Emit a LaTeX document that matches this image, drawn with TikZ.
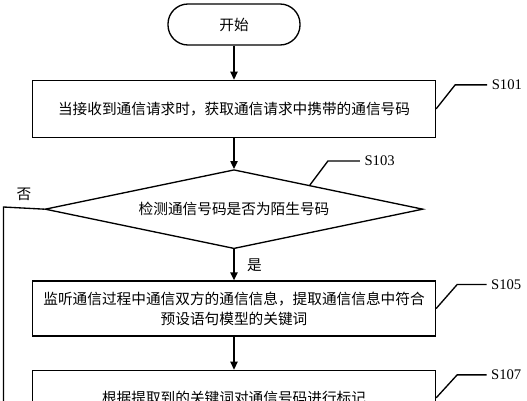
\documentclass[tikz,border=0pt]{standalone}
\usepackage{fontspec}
\setmainfont{Liberation Serif}
\newfontfamily\cjk{Noto Sans CJK SC}
\usetikzlibrary{positioning,shapes.geometric,arrows.meta,calc}

\tikzset{
  startstop/.style={draw, rectangle, rounded corners=15pt, minimum width=99pt, minimum height=30.75pt},
  proc/.style={draw, rectangle, minimum width=302.25pt, minimum height=42.75pt, align=center, inner sep=0pt},
  decide/.style={draw, diamond, aspect=4.8, minimum width=283.5pt, minimum height=59.25pt, inner sep=0pt},
  tag/.style={font=\rmfamily\fontsize{11}{13}\selectfont, inner sep=3pt},
}

\begin{document}
\begin{tikzpicture}[x=0.75pt, y=-0.75pt, node distance=24pt, line width=1pt,
    font=\cjk\fontsize{11}{15}\selectfont, >={Triangle[length=6pt,width=5.5pt]}]
  \useasboundingbox (0,0) rectangle (527,400);
  \clip (0,0) rectangle (527,400);

  \node[startstop] (start) at (234,24.5) {开始};
  \node[proc, below=25.5pt of start] (s101) {当接收到通信请求时，获取通信请求中携带的通信号码};
  \node[decide, below=23.25pt of s101] (chk) {检测通信号码是否为陌生号码};
  \node[proc, below=23.25pt of chk, minimum height=41.25pt] (s105)
    {监听通信过程中通信双方的通信信息，提取通信信息中符合\\预设语句模型的关键词};
  \node[proc, below=24.75pt of s105, minimum height=41.25pt] (s107) {根据提取到的关键词对通信号码进行标记};

  % step labels
  \coordinate (k101) at ($(s101.east)+(19,-24)$);
  \node[tag, right=24pt of k101, anchor=west] (t101) {S101};
  \coordinate (e103) at ($(chk.north)!0.4!(chk.east)$);
  \coordinate (k103) at ($(e103)+(18,-24)$);
  \node[tag, right=24pt of k103, anchor=west] (t103) {S103};
  \coordinate (k105) at ($(s105.east)+(21,-24)$);
  \node[tag, right=22pt of k105, anchor=west] (t105) {S105};
  \coordinate (k107) at ($(s107.east)+(21,-23)$);
  \node[tag, right=22pt of k107, anchor=west] (t107) {S107};
  \draw (s101.east) -- (k101) -- (t101.west);
  \draw (e103) -- (k103) -- (t103.west);
  \draw (s105.east) -- (k105) -- (t105.west);
  \draw (s107.east) -- (k107) -- (t107.west);

  % flow
  \coordinate (nocorner) at (3.5,207);
  \coordinate (noend) at (3.5,420);
  \draw[->] (start) -- (s101);
  \draw[->] (s101) -- (chk);
  \draw[->] (chk) -- node[right=6pt] {是} (s105);
  \draw[->] (s105) -- (s107);
  \draw (chk.west) -- node[above=2pt] {否} (nocorner) -- (noend);
\end{tikzpicture}
\end{document}
